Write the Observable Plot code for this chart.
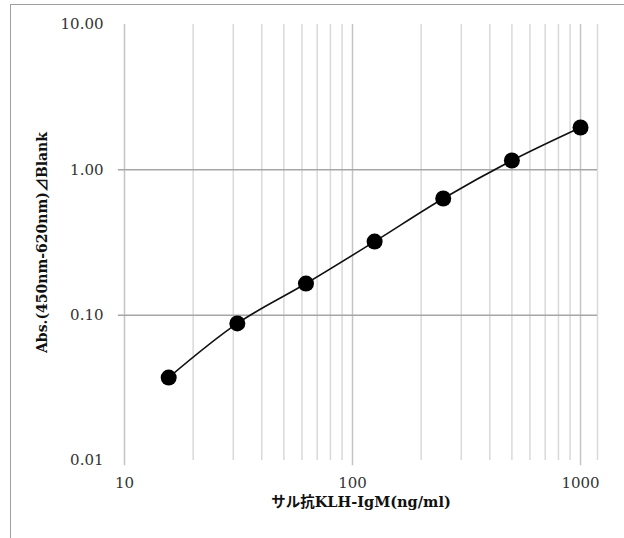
<!DOCTYPE html>
<html>
<head>
<meta charset="utf-8">
<script src="https://cdn.jsdelivr.net/npm/d3@7"></script>
<script src="https://cdn.jsdelivr.net/npm/@observablehq/plot@0.6"></script>
<style>
  html, body { margin: 0; padding: 0; background: #fff; overflow: hidden; }
  #wrap { position: relative; width: 624px; height: 538px; }
  #border { position: absolute; left: 10px; top: 4px; width: 700px; height: 700px;
            border: 1.5px solid #a0a0a0; box-sizing: border-box; pointer-events: none; }
</style>
</head>
<body>
<div id="wrap"><div id="border"></div></div>
<script>
// Data
const concentration = [15.625, 31.25, 62.5, 125, 250, 500, 1000]; // ng/ml
const absorbance = [0.0372, 0.0877, 0.165, 0.321, 0.635, 1.159, 1.956];
const yTicks = [0.01, 0.1, 1, 10];
const xTicks = [10, 100, 1000];
const xMinorGrid = [20, 30, 40, 50, 60, 70, 80, 90, 200, 300, 400, 500, 600, 700, 800, 900];
const xMajorGrid = [10, 100, 1000];
const yGrid = [0.1, 1];
const xLabel = "サル抗KLH-IgM(ng/ml)";
const yLabel = "Abs.(450nm-620nm)⊿Blank";

const xMax = 1187;
const data = concentration.map((c, i) => ({c, a: absorbance[i]}));
const font = "'DejaVu Serif', 'Noto Sans CJK JP', serif";

const chart = Plot.plot({
  width: 624,
  height: 538,
  marginLeft: 124,
  marginRight: 27,
  marginTop: 24,
  marginBottom: 78,
  style: {fontFamily: font, fontSize: "15px", color: "#333", background: "transparent"},
  x: {type: "log", domain: [10, xMax]},
  y: {type: "log", domain: [0.01, 10]},
  marks: [
    Plot.ruleX(xMinorGrid, {y1: 0.01, y2: 10, stroke: "#d9d9d9", strokeWidth: 1.5}),
    Plot.ruleX([xMax], {y1: 0.01, y2: 10, stroke: "#d9d9d9", strokeWidth: 1.5}),
    Plot.ruleX(xMajorGrid, {y1: 0.0092, y2: 10, stroke: "#c4c4c4", strokeWidth: 1.5}),
    Plot.ruleY(yGrid, {x1: 9.4, x2: xMax, stroke: "#a6a6a6", strokeWidth: 1.5}),
    Plot.axisY(yTicks, {tickSize: 0, tickPadding: 21, tickFormat: d3.format(".2f"), fontSize: 15, label: null}),
    Plot.axisX(xTicks, {tickSize: 0, tickPadding: 17, tickFormat: d => String(d), fontSize: 15, label: null}),
    Plot.text([xLabel], {frameAnchor: "bottom", dy: 46, fill: "#111", fontSize: 14.5, fontWeight: "bold"}),
    Plot.text([yLabel], {frameAnchor: "left", textAnchor: "middle", dx: -82, rotate: -90, fill: "#111", fontSize: 14, fontWeight: "bold"}),
    Plot.line(data, {x: "c", y: "a", curve: "catmull-rom", stroke: "#111", strokeWidth: 1.6}),
    Plot.dot(data, {x: "c", y: "a", r: 8, fill: "#000", stroke: "none"})
  ]
});
document.getElementById("wrap").prepend(chart);
</script>
</body>
</html>
